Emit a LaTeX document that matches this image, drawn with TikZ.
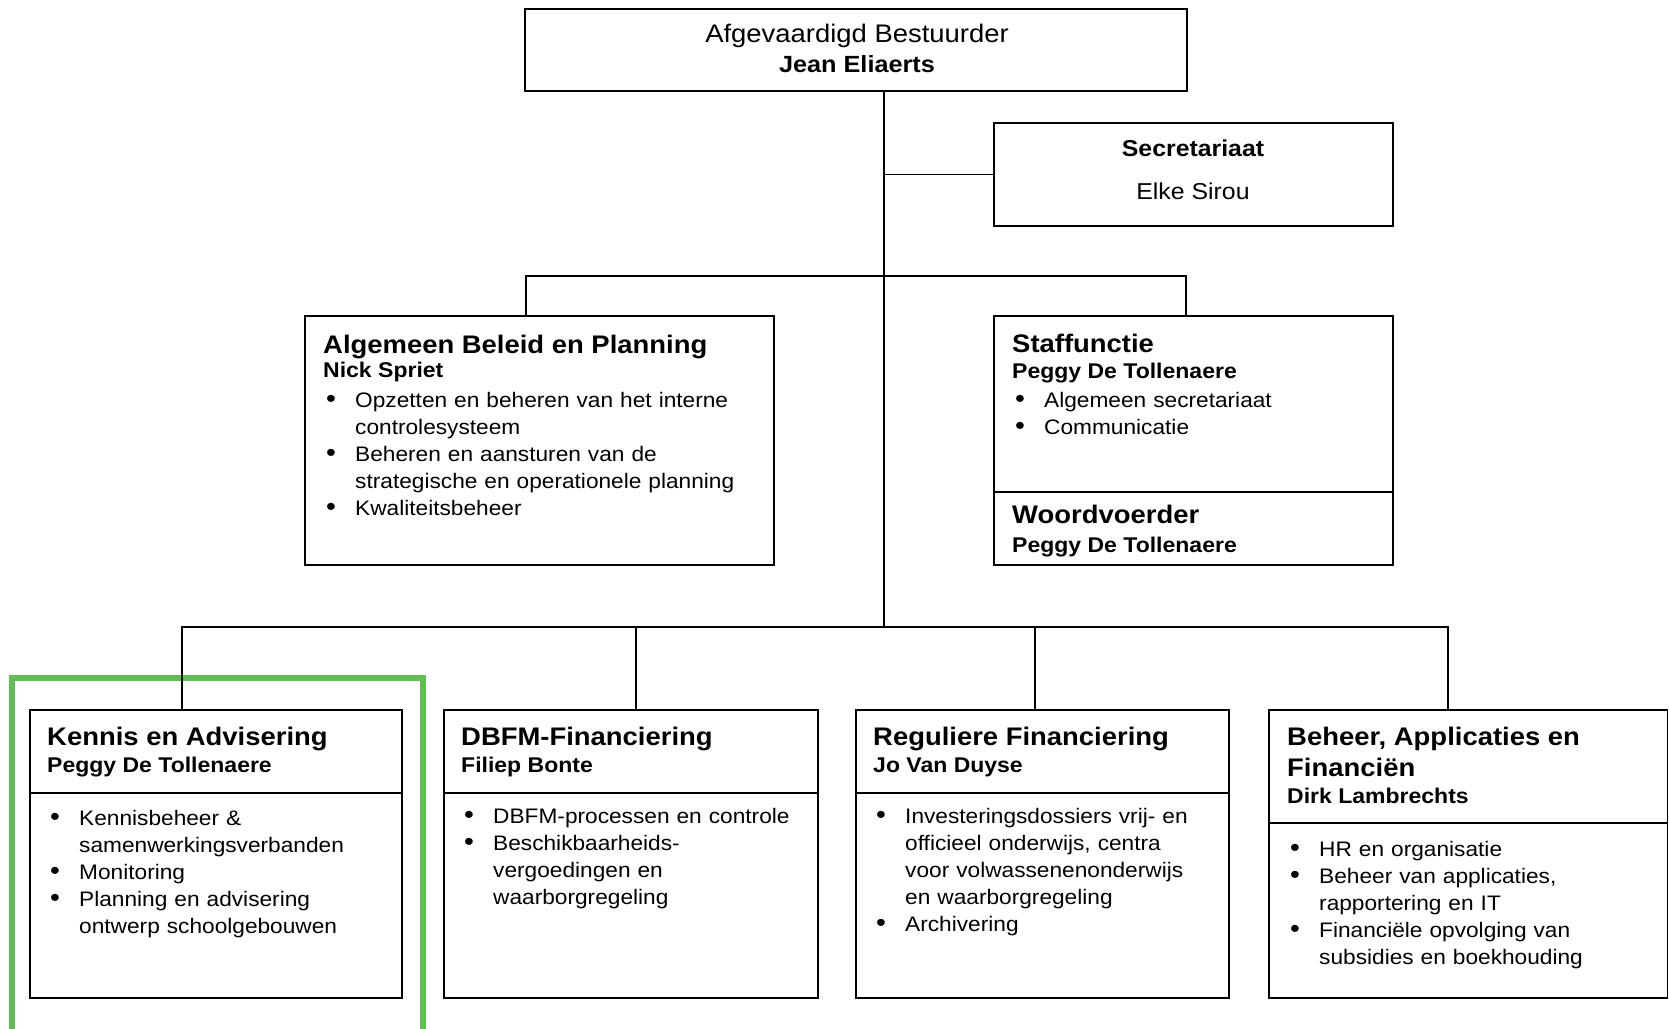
\documentclass[tikz,border=0pt]{standalone}
\usepackage{fontspec}
\setmainfont{Liberation Sans}[FakeStretch=1.08]
\definecolor{kader}{RGB}{96,190,84}
\newcommand{\punt}[1]{\noindent\hangindent=32pt\hangafter=1\makebox[32pt][l]{\hspace{3pt}{\fontsize{26}{27}\selectfont\textbullet}}#1\par}

\begin{document}
\begin{tikzpicture}[
    x=1pt, y=-1pt,
    box/.style={draw, line width=1.5pt, rectangle, inner sep=0pt},
    kop/.style={anchor=base west, inner sep=0pt, align=left, font=\fontsize{25.4}{31}\selectfont\bfseries},
    naam/.style={anchor=base west, inner sep=0pt, font=\fontsize{21.3}{27}\selectfont\bfseries},
    lijst/.style={anchor=base west, inner sep=0pt, text width=420pt, font=\fontsize{21}{27}\selectfont},
    lijn/.style={line width=1.5pt} % verbindingen
]
    \useasboundingbox (0,0) rectangle (1669,1028);
    \draw[line width=6pt, draw=kader] (11.5,678) rectangle (423,1050);

    \node[box, minimum width=662pt, minimum height=82pt] (chef) at (856,50) {};
    \node[anchor=base, inner sep=0pt, font=\fontsize{25.4}{30}\selectfont] (chefT) at (857,42) {Afgevaardigd Bestuurder};
    \node[anchor=base, inner sep=0pt, font=\fontsize{23.4}{30}\selectfont\bfseries] (chefN) at (857,72) {Jean Eliaerts};

    \node[box, minimum width=399pt, minimum height=103pt] (secr) at (1193.5,174.5) {};
    \node[anchor=base, inner sep=0pt, font=\fontsize{23}{30}\selectfont\bfseries] (secrT) at (1193,156) {Secretariaat};
    \node[anchor=base, inner sep=0pt, font=\fontsize{23}{30}\selectfont] (secrN) at (1193,199) {Elke Sirou};

    \node[box, minimum width=469pt, minimum height=249pt] (abp) at (539.5,440.5) {};
    \node[box, minimum width=399pt, minimum height=176pt] (staf) at (1193.5,404) {};
    \node[box, minimum width=399pt, minimum height=73pt] (woord) at (1193.5,528.5) {};

    \node[box, minimum width=372pt, minimum height=83pt] (kennis) at (216,751.5) {};
    \node[box, minimum width=372pt, minimum height=205pt] (kennisB) at (216,895.5) {};
    \node[box, minimum width=374pt, minimum height=83pt] (dbfm) at (631,751.5) {};
    \node[box, minimum width=374pt, minimum height=205pt] (dbfmB) at (631,895.5) {};
    \node[box, minimum width=373pt, minimum height=83pt] (regul) at (1042.5,751.5) {};
    \node[box, minimum width=373pt, minimum height=205pt] (regulB) at (1042.5,895.5) {};
    \node[box, minimum width=398.5pt, minimum height=113pt] (beheer) at (1468.25,766.5) {};
    \node[box, minimum width=398.5pt, minimum height=175pt] (beheerB) at (1468.25,910.5) {};

    \node[kop] (abpT) at (323,353) {Algemeen Beleid en Planning};
    \node[naam] (abpN) at (323,377) {Nick Spriet};
    \node[lijst] (abpL) at (323,407) {\punt{Opzetten en beheren van het interne\newline controlesysteem}%
        \punt{Beheren en aansturen van de\newline strategische en operationele planning}%
        \punt{Kwaliteitsbeheer}};

    \node[kop] (stafT) at (1012,352) {Staffunctie};
    \node[naam] (stafN) at (1012,378) {Peggy De Tollenaere};
    \node[lijst] (stafL) at (1012,407) {\punt{Algemeen secretariaat}\punt{Communicatie}};
    \node[kop] (woordT) at (1012,523) {Woordvoerder};
    \node[naam] (woordN) at (1012,552) {Peggy De Tollenaere};

    \node[kop] (kennisT) at (47,745) {Kennis en Advisering};
    \node[naam] (kennisN) at (47,772) {Peggy De Tollenaere};
    \node[lijst] (kennisL) at (47,825) {\punt{Kennisbeheer \&\newline samenwerkingsverbanden}%
        \punt{Monitoring}%
        \punt{Planning en advisering\newline ontwerp schoolgebouwen}};

    \node[kop] (dbfmT) at (461,745) {DBFM-Financiering};
    \node[naam] (dbfmN) at (461,772) {Filiep Bonte};
    \node[lijst] (dbfmL) at (461,823) {\punt{DBFM-processen en controle}%
        \punt{Beschikbaarheids-\newline vergoedingen en\newline waarborgregeling}};

    \node[kop] (regulT) at (873,745) {Reguliere Financiering};
    \node[naam] (regulN) at (873,772) {Jo Van Duyse};
    \node[lijst] (regulL) at (873,823) {\punt{Investeringsdossiers vrij- en\newline officieel onderwijs, centra\newline voor volwassenenonderwijs\newline en waarborgregeling}%
        \punt{Archivering}};

    % bij twee regels ligt de basislijn op de laatste regel
    \node[kop] (beheerT) at (1287,776) {Beheer, Applicaties en\\Financiën};
    \node[naam] (beheerN) at (1287,803) {Dirk Lambrechts};
    \node[lijst] (beheerL) at (1287,856) {\punt{HR en organisatie}%
        \punt{Beheer van applicaties,\newline rapportering en IT}%
        \punt{Financiële opvolging van\newline subsidies en boekhouding}};

    \coordinate (hub2) at (884,276);
    \coordinate (hub3) at (884,627);
    \draw[lijn] ([xshift=28]chef.south) -- (hub3);
    \draw[lijn] (secr.west -| hub3) -- (secr.west);
    \draw[lijn] ([xshift=-13.5]abp.north) |- (hub2) -| ([xshift=-7.5]staf.north);
    \draw[lijn] (hub3) -| ([xshift=-34]kennis.north);
    \draw[lijn] (hub3) -| ([xshift=5]dbfm.north);
    \draw[lijn] (hub3) -| ([xshift=-7.5]regul.north);
    \draw[lijn] (hub3) -| ([xshift=-20.25]beheer.north);
\end{tikzpicture}
\end{document}
